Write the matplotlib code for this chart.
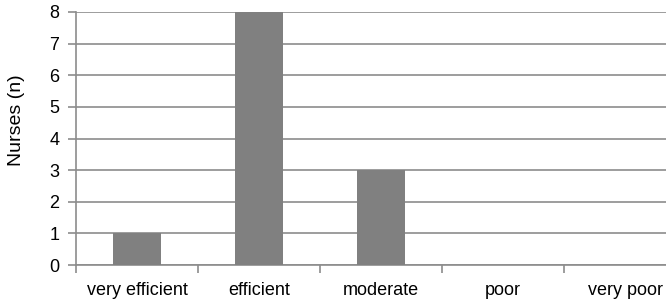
import numpy as np
import matplotlib
matplotlib.use('Agg')
import matplotlib.pyplot as plt

categories = ['very efficient', 'efficient', 'moderate', 'poor', 'very poor']
nurses = [1, 8, 3, 0, 0]
y_ticks = [0, 1, 2, 3, 4, 5, 6, 7, 8]

plt.rcParams['font.family'] = ['Liberation Sans', 'DejaVu Sans']

fig = plt.figure(figsize=(6.66, 3.06), dpi=100)
# plot area runs past the right edge of the figure, as in the reference
ax = fig.add_axes([76 / 666, 41 / 306, 610 / 666, 253 / 306])

x = np.arange(len(categories))
ax.bar(x, nurses, width=0.4, color='#808080', zorder=3)

ax.set_xlim(-0.5, len(categories) - 0.5)
ax.set_ylim(0, 8)
ax.set_yticks(y_ticks)
ax.yaxis.grid(True, color='#8c8c8c', linewidth=1.2, zorder=0)

# ticks at the category boundaries, labels in the middle
ax.set_xticks(np.arange(len(categories) + 1) - 0.5)
ax.set_xticklabels([])
ax.set_xticks(x, minor=True)
ax.set_xticklabels(categories, minor=True, fontsize=13)
ax.tick_params(axis='x', which='major', length=6, width=1.2, color='#8c8c8c')
ax.tick_params(axis='x', which='minor', length=0, pad=12)
ax.tick_params(axis='y', length=6, width=1.2, color='#8c8c8c', labelsize=13, pad=6)

for side in ['top', 'right']:
    ax.spines[side].set_visible(False)
for side in ['left', 'bottom']:
    ax.spines[side].set_color('#8c8c8c')
    ax.spines[side].set_linewidth(1.2)

fig.text(17 / 666, 1 - 120 / 306, 'Nurses (n)', rotation=90, fontsize=14,
         ha='center', va='center')

fig.savefig('out.png', dpi=100)
